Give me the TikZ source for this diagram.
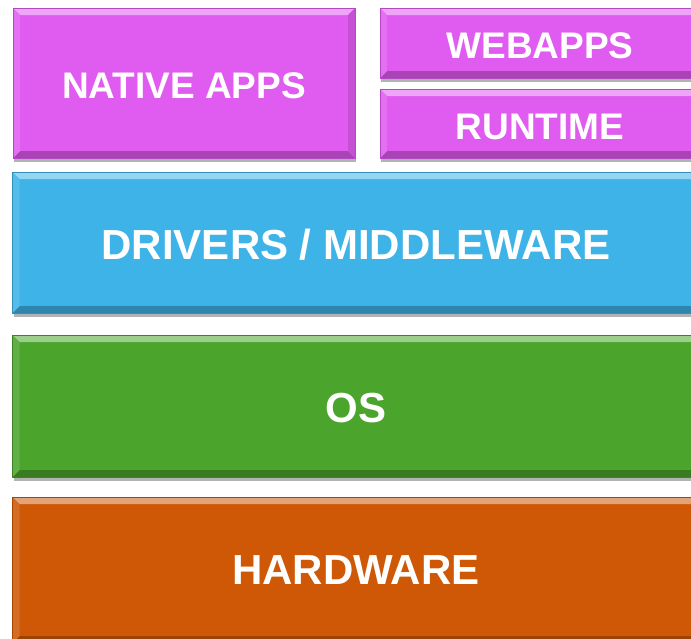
\documentclass[tikz,border=0pt]{standalone}
\usepackage{fontspec}
\usetikzlibrary{shadows}
\newfontfamily\stackfont{Liberation Sans}
\definecolor{appmag}{HTML}{E05BF0}
\definecolor{drvblue}{HTML}{3DB3E8}
\definecolor{osgreen}{HTML}{4BA52C}
\definecolor{hworange}{HTML}{CE5806}
\tikzset{
	layer/.style={rectangle, inner sep=0pt, fill=#1, draw=#1!80!black, line width=0.5pt,
		text=white, font=\stackfont\bfseries\fontsize{42}{46}\selectfont,
		drop shadow={opacity=0.3, shadow xshift=1pt, shadow yshift=-4pt, fill=black},
		path picture={
			\fill[#1!55!white] (path picture bounding box.north west) -- (path picture bounding box.north east)
				-- ([shift={(-7pt,-7pt)}]path picture bounding box.north east) -- ([shift={(7pt,-7pt)}]path picture bounding box.north west) -- cycle;
			\fill[#1!75!black] (path picture bounding box.south west) -- (path picture bounding box.south east)
				-- ([shift={(-7pt,7pt)}]path picture bounding box.south east) -- ([shift={(7pt,7pt)}]path picture bounding box.south west) -- cycle;
			\fill[#1!88!white] (path picture bounding box.north west) -- ([shift={(7pt,-7pt)}]path picture bounding box.north west)
				-- ([shift={(7pt,7pt)}]path picture bounding box.south west) -- (path picture bounding box.south west) -- cycle;
			\fill[#1!88!black] (path picture bounding box.north east) -- ([shift={(-7pt,-7pt)}]path picture bounding box.north east)
				-- ([shift={(-7pt,7pt)}]path picture bounding box.south east) -- (path picture bounding box.south east) -- cycle;
		}},
	applayer/.style={layer=appmag, font=\stackfont\bfseries\fontsize{37}{40}\selectfont, text height=32pt},
}
\begin{document}
\begin{tikzpicture}[x=1pt,y=-1pt]
			\useasboundingbox[fill=white] (0,0) rectangle (691,638);
			\clip (0,0) rectangle (691,638);
			\node[layer=hworange, minimum width=687pt, minimum height=146pt] (hardware) at (356,570) {HARDWARE};
			\node[layer=osgreen, minimum width=687pt, minimum height=142pt, text height=33pt] (os) at (356,406) {OS};
			\node[layer=drvblue, minimum width=687pt, minimum height=141pt, text height=34pt] (drivers) at (356,242.5) {DRIVERS / MIDDLEWARE};
			\node[applayer, minimum width=342pt, minimum height=150pt] (native) at (184,83) {NATIVE APPS};
			\node[applayer, minimum width=320pt, minimum height=70pt] (webapps) at (540,43) {WEBAPPS};
			\node[applayer, minimum width=320pt, minimum height=69pt] (runtime) at (540,123.5) {RUNTIME};
		\end{tikzpicture}
\end{document}
